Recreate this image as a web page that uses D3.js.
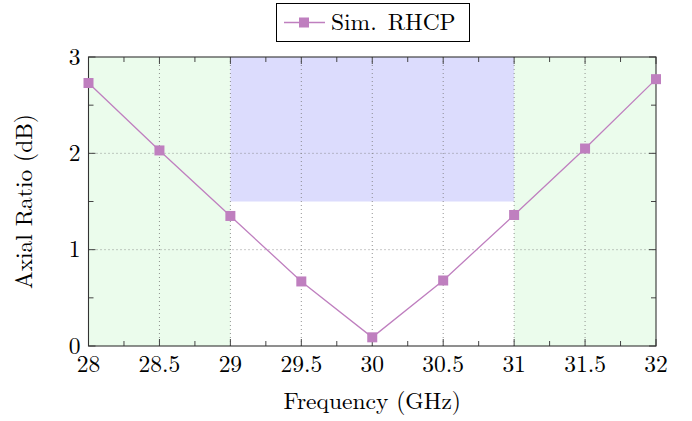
<!DOCTYPE html>
<html>
<head>
<meta charset="utf-8">
<script src="https://cdn.jsdelivr.net/npm/d3@7"></script>
<style>
    body { margin: 0; background: #fff; }
</style>
</head>
<body>
<div class="panel"></div>
<script>

// Data

const frequency = [28, 28.5, 29, 29.5, 30, 30.5, 31, 31.5, 32];
const axialRatio = [2.73, 2.03, 1.35, 0.67, 0.09, 0.68, 1.36, 2.05, 2.77];
const xTicks = [28, 28.5, 29, 29.5, 30, 30.5, 31, 31.5, 32];
const yTicks = [0, 1, 2, 3];
const greenBands = [[28, 29], [31, 32]];
const blueBand = { x: [29, 31], y: [1.5, 3] };
const seriesName = "Sim. RHCP";

// Render chart

const params = {
    width: 692,
    height: 421,
    margin: { top: 57, right: 36, bottom: 75, left: 88.5 },
    font: '"Latin Modern Roman", "Liberation Serif", serif',
    fontSize: 23.5
};

const svg = d3.select(".panel").append("svg")
    .attr("width", params.width)
    .attr("height", params.height);

function label(sel) {
    return sel.style("font-family", params.font)
        .style("font-size", params.fontSize + "px")
        .attr("fill", "#000");
}

const x = d3.scaleLinear()
    .domain([28, 32])
    .range([params.margin.left, params.width - params.margin.right]);

const y = d3.scaleLinear()
    .domain([0, 3])
    .range([params.height - params.margin.bottom, params.margin.top]);

const colour = "#bf7fbf";

// shaded regions
svg.selectAll(".green")
    .data(greenBands)
    .enter().append("rect")
    .attr("x", d => x(d[0]))
    .attr("y", y(3))
    .attr("width", d => x(d[1]) - x(d[0]))
    .attr("height", y(0) - y(3))
    .attr("fill", "#ebfcec");

svg.append("rect")
    .attr("x", x(blueBand.x[0]))
    .attr("y", y(blueBand.y[1]))
    .attr("width", x(blueBand.x[1]) - x(blueBand.x[0]))
    .attr("height", y(blueBand.y[0]) - y(blueBand.y[1]))
    .attr("fill", "#dcdcfd");

// grid
svg.selectAll(".vgrid")
    .data(xTicks.slice(1, -1))
    .enter().append("line")
    .attr("x1", d => x(d)).attr("x2", d => x(d))
    .attr("y1", y(0)).attr("y2", y(3))
    .attr("stroke", "#777")
    .attr("stroke-width", 0.8)
    .attr("stroke-dasharray", "1,3");

svg.selectAll(".hgrid")
    .data(yTicks.slice(1, -1))
    .enter().append("line")
    .attr("x1", x(28)).attr("x2", x(32))
    .attr("y1", d => y(d)).attr("y2", d => y(d))
    .attr("stroke", "#777")
    .attr("stroke-width", 0.8)
    .attr("stroke-dasharray", "1,3");

// ticks (inward, all four sides)
const xMinor = d3.range(28.25, 32, 0.5);
const yMinor = d3.range(0.5, 3, 1);
const tickStroke = "#444";

function xTickMarks(values, len) {
    [y(0), y(3)].forEach((base, i) => {
        svg.append("g").selectAll("line")
            .data(values)
            .enter().append("line")
            .attr("x1", d => x(d)).attr("x2", d => x(d))
            .attr("y1", base)
            .attr("y2", i === 0 ? base - len : base + len)
            .attr("stroke", tickStroke)
            .attr("stroke-width", 1);
    });
}

function yTickMarks(values, len) {
    [x(28), x(32)].forEach((base, i) => {
        svg.append("g").selectAll("line")
            .data(values)
            .enter().append("line")
            .attr("y1", d => y(d)).attr("y2", d => y(d))
            .attr("x1", base)
            .attr("x2", i === 0 ? base + len : base - len)
            .attr("stroke", tickStroke)
            .attr("stroke-width", 1);
    });
}

xTickMarks(xTicks, 7);
xTickMarks(xMinor, 5);
yTickMarks(yTicks, 7);
yTickMarks(yMinor, 5);

// frame
svg.append("rect")
    .attr("x", x(28))
    .attr("y", y(3))
    .attr("width", x(32) - x(28))
    .attr("height", y(0) - y(3))
    .attr("fill", "none")
    .attr("stroke", "#333")
    .attr("stroke-width", 1.1);

// tick labels
svg.selectAll(".xlabel")
    .data(xTicks)
    .enter().append("text")
    .call(label)
    .attr("x", d => x(d))
    .attr("y", y(0) + 26)
    .attr("text-anchor", "middle")
    .text(d => d);

svg.selectAll(".ylabel")
    .data(yTicks)
    .enter().append("text")
    .call(label)
    .attr("x", x(28) - 8)
    .attr("y", d => y(d) + 7.5)
    .attr("text-anchor", "end")
    .text(d => d);

// axis titles
svg.append("text")
    .call(label)
    .attr("x", (x(28) + x(32)) / 2)
    .attr("y", 409)
    .attr("text-anchor", "middle")
    .text("Frequency (GHz)");

svg.append("text")
    .call(label)
    .attr("transform", `translate(32, ${(y(0) + y(3)) / 2}) rotate(-90)`)
    .attr("text-anchor", "middle")
    .text("Axial Ratio (dB)");

// series
const line = d3.line()
    .x((d, i) => x(frequency[i]))
    .y(d => y(d));

svg.append("path")
    .datum(axialRatio)
    .attr("d", line)
    .attr("fill", "none")
    .attr("stroke", colour)
    .attr("stroke-width", 1.3);

const ms = 10;
svg.selectAll(".marker")
    .data(axialRatio)
    .enter().append("rect")
    .attr("x", (d, i) => x(frequency[i]) - ms / 2)
    .attr("y", d => y(d) - ms / 2)
    .attr("width", ms)
    .attr("height", ms)
    .attr("fill", colour);

// legend
const legend = svg.append("g");

legend.append("rect")
    .attr("x", 276.5)
    .attr("y", 3.5)
    .attr("width", 193)
    .attr("height", 38)
    .attr("fill", "#fff")
    .attr("stroke", "#000")
    .attr("stroke-width", 1);

legend.append("line")
    .attr("x1", 284).attr("x2", 325)
    .attr("y1", 22.5).attr("y2", 22.5)
    .attr("stroke", colour)
    .attr("stroke-width", 1.3);

legend.append("rect")
    .attr("x", 304 - ms / 2)
    .attr("y", 22.5 - ms / 2)
    .attr("width", ms)
    .attr("height", ms)
    .attr("fill", colour);

// TeX puts a wider space after the full stop
const nameParts = seriesName.split(" ");
const legendText = legend.append("text")
    .call(label)
    .attr("x", 331)
    .attr("y", 29.5)
    .text(nameParts[0]);

legendText.append("tspan")
    .attr("dx", 11)
    .text(nameParts.slice(1).join(" "));

</script>
</body>
</html>
